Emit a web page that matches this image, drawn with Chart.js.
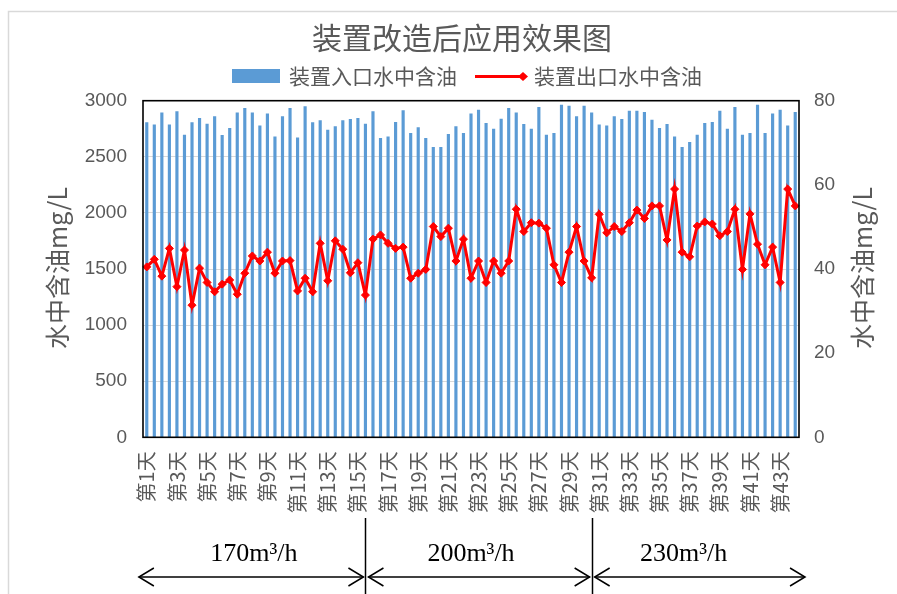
<!DOCTYPE html>
<html>
<head>
<meta charset="utf-8">
<script src="https://cdn.jsdelivr.net/npm/chart.js@4/dist/chart.umd.min.js"></script>
<style>
  html, body { margin: 0; padding: 0; background: #fff; }
  #wrap { width: 897px; height: 594px; }
</style>
</head>
<body>
<div id="wrap"><canvas id="c" width="897" height="594"></canvas></div>
<script>
// ---- chart content ----
const chartTitle = '装置改造后应用效果图';
const seriesNames = ['装置入口水中含油', '装置出口水中含油'];
const axisTitle = '水中含油mg/L';

// every second day label, shown on every fourth category
const tickLabels = ['第1天', '第3天', '第5天', '第7天', '第9天', '第11天', '第13天', '第15天',
  '第17天', '第19天', '第21天', '第23天', '第25天', '第27天', '第29天', '第31天',
  '第33天', '第35天', '第37天', '第39天', '第41天', '第43天'];

// inlet oil content, mg/L (two samples per day)
const inletOil = [
  2804, 2784, 2893, 2784, 2902, 2694, 2804, 2843, 2792, 2858,
  2692, 2754, 2893, 2932, 2893, 2777, 2882, 2679, 2858, 2932,
  2670, 2947, 2804, 2822, 2739, 2769, 2822, 2834, 2843, 2792,
  2902, 2665, 2679, 2807, 2911, 2709, 2760, 2665, 2585, 2585,
  2700, 2769, 2709, 2882, 2917, 2798, 2748, 2837, 2932, 2893,
  2790, 2748, 2941, 2694, 2709, 2962, 2953, 2858, 2953, 2893,
  2784, 2775, 2858, 2834, 2908, 2908, 2897, 2828, 2754, 2790,
  2679, 2585, 2629, 2694, 2798, 2807, 2908, 2748, 2941, 2694,
  2709, 2962, 2709, 2882, 2917, 2777, 2897
];

// outlet oil content, mg/L
const outletOil = [
  40.5, 42.3, 38.3, 44.9, 35.8, 44.5, 31.4, 40.2, 36.8, 34.6,
  36.4, 37.4, 34.0, 39.0, 43.1, 41.9, 44.0, 39.0, 41.9, 42.0,
  34.8, 37.8, 34.6, 46.1, 37.2, 46.7, 44.7, 39.1, 41.5, 33.8,
  47.1, 48.1, 46.1, 44.9, 45.2, 37.8, 39.0, 39.9, 50.1, 47.7,
  49.7, 41.9, 47.1, 37.8, 41.9, 36.8, 41.9, 39.0, 41.9, 54.2,
  48.9, 51.0, 50.9, 49.7, 41.0, 36.8, 44.0, 50.1, 41.9, 37.9,
  53.0, 48.6, 50.1, 48.9, 51.0, 54.0, 52.0, 55.0, 55.0, 46.9,
  59.0, 44.0, 42.9, 50.2, 51.2, 50.7, 47.9, 48.9, 54.2, 39.9,
  53.1, 45.9, 41.0, 45.2, 36.8, 59.0, 55.0
];

const leftAxis = { min: 0, max: 3000, step: 500 };
const rightAxis = { min: 0, max: 80, step: 20 };

// treatment flow periods (boundaries given as category positions)
const flowRates = ['170m³/h', '200m³/h', '230m³/h'];
const periodBounds = [-1.05, 29, 59, 87.3];
const flowLabelAt = [14.2, 43, 71.2];

const categories = inletOil.map((_, i) => '第' + (Math.floor(i / 2) + 1) + '天');

// ---- styling ----
const GRAY = '#595959';
const BLUE = '#5b9bd5';
const RED = '#ff0000';
const CJK = '"Noto Sans CJK SC", "Noto Sans", sans-serif';

function arrowHead(ctx, x, y, dir) {
  ctx.beginPath();
  ctx.moveTo(x - dir * 15, y - 9);
  ctx.lineTo(x, y);
  ctx.lineTo(x - dir * 15, y + 9);
  ctx.stroke();
}

const decorations = {
  id: 'decorations',
  afterDraw(chart) {
    const { ctx, chartArea: a, scales } = chart;
    const x = scales.x;
    ctx.save();

    // outer frame
    ctx.strokeStyle = '#d9d9d9';
    ctx.lineWidth = 1.5;
    ctx.beginPath();
    ctx.moveTo(8.5, 594); ctx.lineTo(8.5, 11.5); ctx.lineTo(897, 11.5);
    ctx.stroke();

    // plot frame
    ctx.strokeStyle = '#000';
    ctx.lineWidth = 1.6;
    ctx.strokeRect(a.left, a.top, a.right - a.left, a.bottom - a.top);

    // title
    ctx.fillStyle = GRAY;
    ctx.textAlign = 'center';
    ctx.textBaseline = 'middle';
    ctx.font = '30px ' + CJK;
    ctx.fillText(chartTitle, 462, 38);

    // legend
    ctx.font = '21px ' + CJK;
    ctx.textAlign = 'left';
    ctx.fillStyle = BLUE;
    ctx.fillRect(232, 69, 48, 14);
    ctx.fillStyle = GRAY;
    ctx.fillText(seriesNames[0], 289, 76);
    ctx.strokeStyle = RED;
    ctx.lineWidth = 3;
    ctx.beginPath(); ctx.moveTo(475, 76.5); ctx.lineTo(524, 76.5); ctx.stroke();
    ctx.fillStyle = RED;
    ctx.beginPath();
    ctx.moveTo(528, 76.5); ctx.lineTo(523, 72); ctx.lineTo(518, 76.5); ctx.lineTo(523, 81);
    ctx.closePath(); ctx.fill();
    ctx.fillStyle = GRAY;
    ctx.fillText(seriesNames[1], 534, 76);

    // axis titles
    ctx.font = '25px ' + CJK;
    ctx.textAlign = 'center';
    [57, 862].forEach(cx => {
      ctx.save();
      ctx.translate(cx, 268);
      ctx.rotate(-Math.PI / 2);
      ctx.fillText(axisTitle, 0, 0);
      ctx.restore();
    });

    // flow periods: separators, arrows and labels
    ctx.strokeStyle = '#000';
    ctx.fillStyle = '#000';
    ctx.lineWidth = 1.5;
    const yArrow = 577;
    periodBounds.slice(1, -1).forEach(b => {
      const px = Math.round(x.getPixelForValue(b)) + 0.5;
      ctx.beginPath(); ctx.moveTo(px, 518); ctx.lineTo(px, 594); ctx.stroke();
    });
    ctx.font = '26px "Liberation Serif", "DejaVu Serif", serif';
    ctx.textAlign = 'center';
    ctx.textBaseline = 'middle';
    flowRates.forEach((label, i) => {
      const x1 = x.getPixelForValue(periodBounds[i]) + (i > 0 ? 3 : 0);
      const x2 = x.getPixelForValue(periodBounds[i + 1]) - (i < flowRates.length - 1 ? 2 : 0);
      ctx.beginPath(); ctx.moveTo(x1, yArrow); ctx.lineTo(x2, yArrow); ctx.stroke();
      arrowHead(ctx, x1, yArrow, -1);
      arrowHead(ctx, x2, yArrow, 1);
      ctx.fillText(label, x.getPixelForValue(flowLabelAt[i]), 554);
    });

    ctx.restore();
  }
};

const tickFont = { family: '"Liberation Sans", "Noto Sans", sans-serif', size: 19 };

new Chart(document.getElementById('c'), {
  data: {
    labels: categories,
    datasets: [
      {
        type: 'line',
        label: seriesNames[1],
        data: outletOil,
        yAxisID: 'y1',
        borderColor: RED,
        borderWidth: 3,
        backgroundColor: RED,
        pointStyle: 'rectRot',
        pointRadius: 4,
        pointBorderWidth: 1,
        pointBorderColor: RED,
        pointBackgroundColor: RED,
        tension: 0,
        order: 0
      },
      {
        type: 'bar',
        label: seriesNames[0],
        data: inletOil,
        yAxisID: 'y',
        backgroundColor: BLUE,
        barThickness: 2.5,
        order: 1
      }
    ]
  },
  options: {
    responsive: false,
    animation: false,
    layout: { padding: { top: 100.7, left: 0, right: 0, bottom: 0 } },
    plugins: {
      legend: { display: false },
      title: { display: false },
      tooltip: { enabled: false }
    },
    scales: {
      x: {
        offset: true,
        grid: { display: false, drawTicks: false },
        border: { display: false },
        ticks: {
          autoSkip: false,
          minRotation: 90,
          maxRotation: 90,
          padding: 14,
          color: GRAY,
          font: { family: CJK, size: 20 },
          callback: (v, i) => (i % 4 === 0 ? tickLabels[i / 4] : '')
        },
        afterFit: s => { s.height = 594 - 437.3; }
      },
      y: {
        position: 'left',
        min: leftAxis.min,
        max: leftAxis.max,
        grid: { color: '#d9d9d9', lineWidth: 1, drawTicks: false },
        border: { display: false },
        ticks: { stepSize: leftAxis.step, padding: 16, color: GRAY, font: tickFont,
          callback: v => String(v) },
        afterFit: s => { s.width = 143; }
      },
      y1: {
        position: 'right',
        min: rightAxis.min,
        max: rightAxis.max,
        grid: { display: false, drawTicks: false },
        border: { display: false },
        ticks: { stepSize: rightAxis.step, padding: 15, color: GRAY, font: tickFont,
          callback: v => String(v) },
        afterFit: s => { s.width = 897 - 799; }
      }
    }
  },
  plugins: [decorations]
});
</script>
</body>
</html>
